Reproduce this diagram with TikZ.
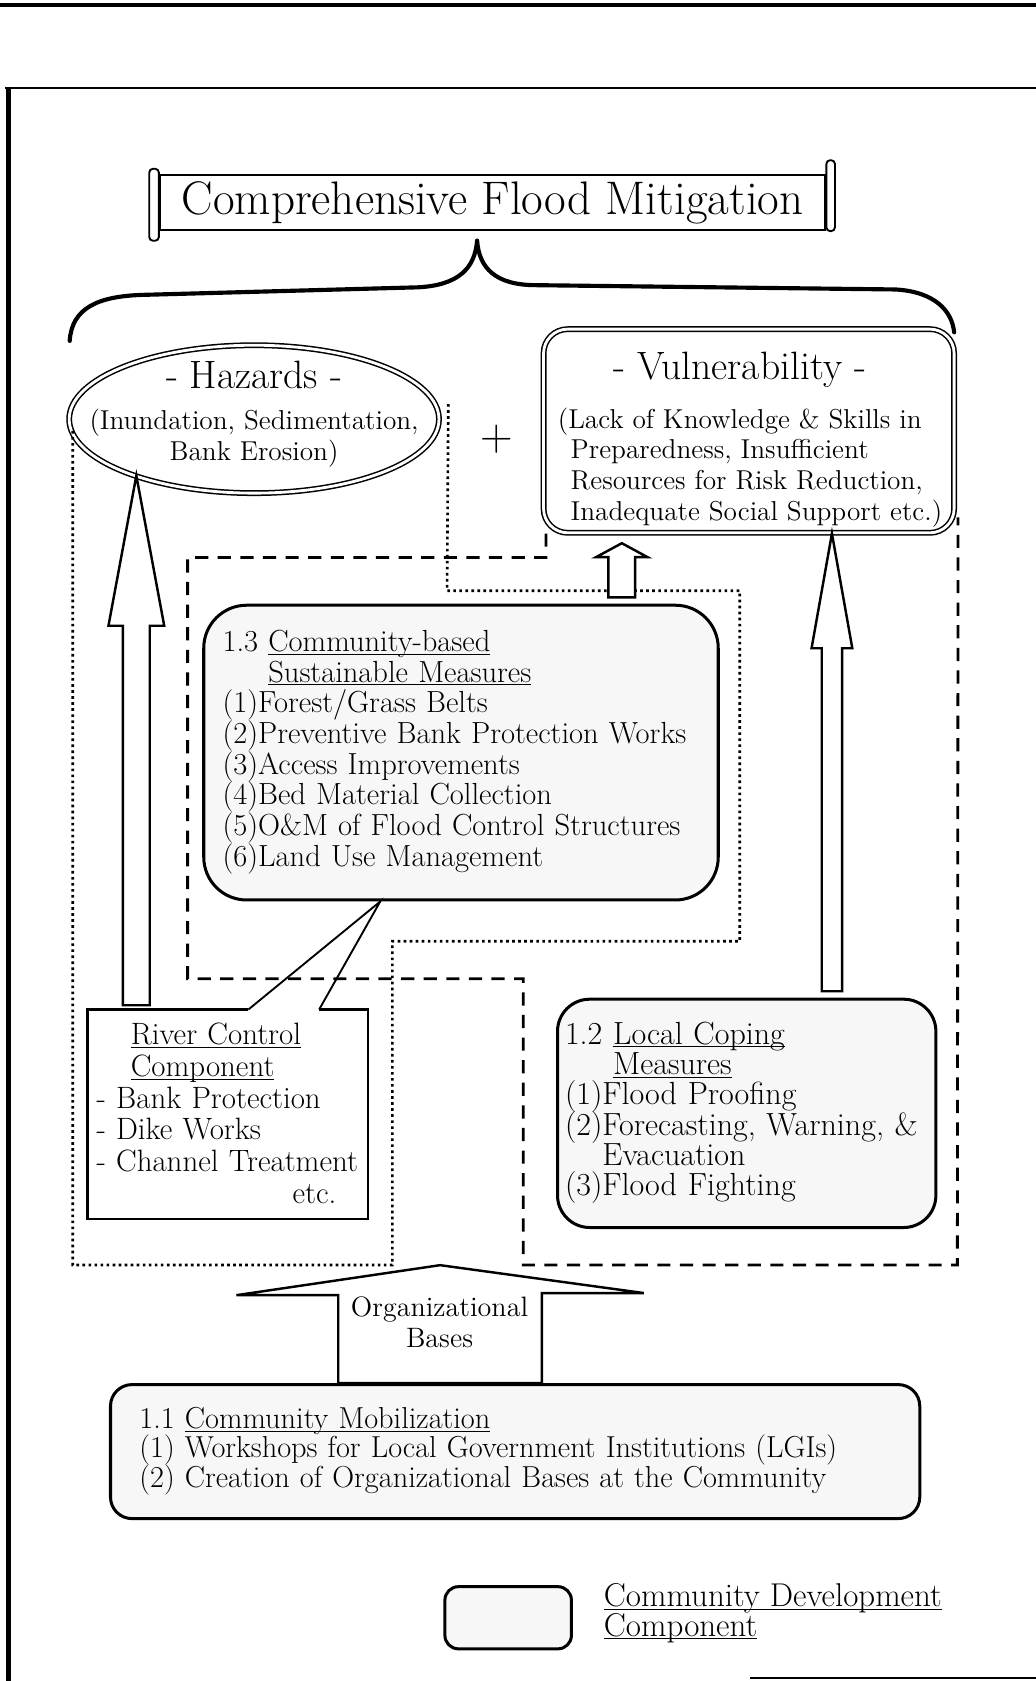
\documentclass[tikz,border=0pt]{standalone}
\usetikzlibrary{shapes.geometric,calc}
\newcommand{\undl}[1]{\underline{\smash{#1}}}
\newcommand{\tightskip}{\setlength{\lineskiplimit}{-6pt}\setlength{\lineskip}{0pt}}

\begin{document}
\begin{tikzpicture}[x=0.02cm,y=-0.02cm,
  cdbox/.style={draw,line width=1.6pt,fill=black!3,align=left,inner sep=0pt},
  bodytext/.style={font=\fontsize{14.5}{16.3}\selectfont},
  headtext/.style={font=\fontsize{21}{24}\selectfont},
  dotzone/.style={line width=1.4pt,dash pattern=on 1.4pt off 1.8pt},
  dashzone/.style={line width=1.5pt,dash pattern=on 7pt off 5pt},
  hollow/.style={draw,line width=1.3pt,fill=white},
  bracestroke/.style={line width=2.2pt,line cap=round}]
    \useasboundingbox (0,0) rectangle (966,1568);
    % page frame
    \draw[line width=2pt] (0,5) -- (966,5);
    \draw[line width=1pt] (5,82) -- (966,82);
    \draw[line width=2.5pt] (8,82) -- (8,1568);
    \draw[line width=1pt] (700,1565) -- (966,1565);

    % title scroll
    \node[draw,line width=1pt,minimum width=12.42cm,minimum height=0.96cm,
      font=\fontsize{25}{29}\selectfont] (title) at (459.5,189) {Comprehensive Flood Mitigation};
    \draw[line width=1pt,rounded corners=2pt,fill=white] ($(title.north west)+(-9,-5)$) rectangle ($(title.south west)+(0,9)$);
    \draw[line width=1pt,rounded corners=2pt,fill=white] ($(title.north east)+(0,-13)$) rectangle ($(title.south east)+(8,0)$);
    \coordinate (tip) at ($(title.south)+(-14.5,9)$);
    \draw[bracestroke] (65,318) .. controls (67,288) and (90,276) .. (135,275) -- (390,268) .. controls (428,266) and (443,250) .. (tip);
    \draw[bracestroke] (tip) .. controls (447,250) and (462,266) .. (500,266) -- (835,270) .. controls (872,272) and (888,290) .. (890,310);

    % hazards and vulnerability
    \node[ellipse,draw,double,double distance=1.5pt,line width=0.8pt,minimum width=6.9cm,minimum height=2.76cm] (haz) at (237,391) {};
    \node[headtext] (hazhead) at (237,350) {- Hazards -};
    \node[bodytext,align=center,inner sep=0pt] (hazbody) at (237,409) {(Inundation, Sedimentation,\\Bank Erosion)};
    \node[draw,double,double distance=1.5pt,line width=0.8pt,rounded corners=0.45cm,minimum width=7.66cm,minimum height=3.8cm] (vul) at (698.5,402) {};
    \node[headtext] (vulhead) at (690,345) {- Vulnerability -};
    \node[bodytext,align=left,inner sep=0pt,anchor=north west] (vulbody) at (520,380)
      {(Lack of Knowledge \& Skills in\\\hspace*{0.24cm}Preparedness, Insufficient\\\hspace*{0.24cm}Resources for Risk Reduction,\\\hspace*{0.24cm}Inadequate Social Support etc.)};
    \node[font=\fontsize{24}{24}\selectfont] (plus) at (463,410) {+};

    % areas of the two components
    \draw[dotzone] ($(haz.west)+(4,11)$) |- (366,1180) |- (690,878) |- (417,551) -- ($(haz.east)+(8,-14)$);
    \draw[dashzone] ($(vul.south west)+(3,0)$) |- (175,520) |- (488,913) |- (893,1180) -- ($(vul.south east)+(3,-15)$);

    % 1.3
    \node[cdbox,font=\fontsize{16.2}{16.3}\selectfont\tightskip,rounded corners=0.8cm,minimum width=9.6cm,minimum height=5.5cm,text width=8.9cm] (csm) at (430,702)
      {1.3 \undl{Community-based}\\
       \phantom{1.3 }\undl{Sustainable Measures}\\
       (1)Forest/Grass Belts\\
       (2)Preventive Bank Protection Works\\
       (3)Access Improvements\\
       (4)Bed Material Collection\\
       (5)O\&M of Flood Control Structures\\
       (6)Land Use Management};

    % river control component
    \node[minimum width=5.22cm,minimum height=3.9cm] (rcc) at (212.5,1039.5) {};
    \node[font=\fontsize{16.4}{16.8}\selectfont\tightskip,align=left,inner sep=0pt,text width=4.9cm] (rctext) at ($(rcc.center)+(0,9)$)
      {\hspace*{0.64cm}\undl{River Control}\\
       \hspace*{0.64cm}\undl{Component}\\
       - Bank Protection\\
       - Dike Works\\
       - Channel Treatment\\
       \hspace*{3.66cm}etc.};
    \draw[line width=1.2pt] ($(rcc.north west)+(150,0)$) -- (rcc.north west) -- (rcc.south west) -- (rcc.south east) -- (rcc.north east) -- ($(rcc.north west)+(216,0)$);
    \coordinate (call) at ($(csm.south west)!0.344!(csm.south east)$);
    \draw[line width=1pt] ($(rcc.north west)+(150,0)$) -- (call) -- ($(rcc.north west)+(216,0)$);

    % 1.2
    \node[cdbox,font=\fontsize{17}{16.1}\selectfont\tightskip,rounded corners=0.6cm,minimum width=7.06cm,minimum height=4.26cm,text width=6.78cm] (lcm) at (696.5,1038.5)
      {1.2 \undl{Local Coping}\\
       \phantom{1.2 }\undl{Measures}\\
       (1)Flood Proofing\\
       (2)Forecasting, Warning, \&\\
       \phantom{(2)}Evacuation\\
       (3)Flood Fighting};

    % 1.1
    \node[cdbox,font=\fontsize{16.1}{15.6}\selectfont\tightskip,rounded corners=0.4cm,minimum width=15.1cm,minimum height=2.5cm,text width=14.02cm] (mob) at (480.5,1354)
      {1.1 \undl{Community Mobilization}\\
       (1) Workshops for Local Government Institutions (LGIs)\\
       (2) Creation of Organizational Bases at the Community};

    % hollow arrows
    \coordinate (rcup) at ($(rcc.north west)+(45.5,-4)$);
    \coordinate (hazin) at ($(rcup)+(0,-494)$);
    \draw[hollow] ($(rcup)+(-12.5,0)$) -- ($(hazin)+(-12.5,140)$) -- ($(hazin)+(-26,140)$) -- (hazin)
      -- ($(hazin)+(26,140)$) -- ($(hazin)+(12.5,140)$) -- ($(rcup)+(12.5,0)$) -- cycle;
    \coordinate (lcup) at ($(lcm.north)+(79.5,-6)$);
    \coordinate (vulin) at ($(vul.south)+(77.5,0)$);
    \draw[hollow] ($(lcup)+(-9.5,0)$) -- ($(vulin)+(-9.5,107)$) -- ($(vulin)+(-19,107)$) -- (vulin)
      -- ($(vulin)+(19,107)$) -- ($(vulin)+(9.5,107)$) -- ($(lcup)+(9.5,0)$) -- cycle;
    \coordinate (csup) at ($(csm.north)+(150,-6)$);
    \coordinate (vulin2) at ($(vul.south)+(-118.5,9)$);
    \draw[hollow] ($(csup)+(-12.5,0)$) -- ($(vulin2)+(-12.5,13)$) -- ($(vulin2)+(-24,13)$) -- (vulin2)
      -- ($(vulin2)+(24,13)$) -- ($(vulin2)+(12.5,13)$) -- ($(csup)+(12.5,0)$) -- cycle;
    \coordinate (mobup) at ($(mob.north)+(-70,0)$);
    \coordinate (orgtip) at ($(mobup)+(0,-110)$);
    \draw[hollow] ($(mobup)+(-95,0)$) -- ($(orgtip)+(-95,28)$) -- ($(orgtip)+(-190,28)$) -- (orgtip)
      -- ($(orgtip)+(190,26)$) -- ($(orgtip)+(95,26)$) -- ($(mobup)+(95,0)$) -- cycle;
    \node[font=\fontsize{14.9}{16.4}\selectfont,align=center] (org) at (410,1233) {Organizational\\Bases};

    % legend
    \node[cdbox,rounded corners=0.25cm,minimum width=2.36cm,minimum height=1.16cm] (legbox) at (474,1509) {};
    \node[font=\fontsize{17.5}{15.9}\selectfont\tightskip,align=left,anchor=west,inner sep=0pt] (legtext) at (563,1514)
      {\undl{Community Development}\\\undl{Component}};
\end{tikzpicture}
\end{document}
